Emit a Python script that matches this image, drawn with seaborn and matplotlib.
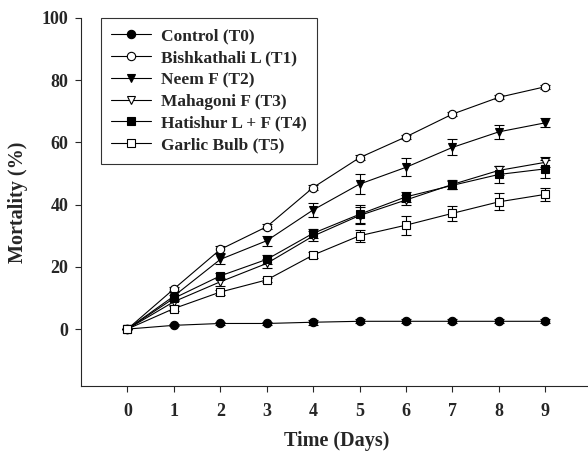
import pandas as pd
import seaborn as sns
import matplotlib.pyplot as plt
from matplotlib.font_manager import FontProperties

days = [0, 1, 2, 3, 4, 5, 6, 7, 8, 9]

labels = ["Control (T0)", "Bishkathali L (T1)", "Neem F (T2)",
          "Mahagoni F (T3)", "Hatishur L + F (T4)", "Garlic Bulb (T5)"]

# mean mortality (%)
t0 = [0, 1.2, 1.8, 1.8, 2.2, 2.5, 2.5, 2.5, 2.5, 2.5]
t1 = [0, 12.9, 25.6, 32.9, 45.5, 55.1, 61.8, 69.1, 74.5, 77.9]
t2 = [0, 10.6, 22.4, 28.4, 38.3, 46.6, 52.0, 58.4, 63.4, 66.3]
t3 = [0, 8.8, 15.2, 21.1, 29.9, 36.5, 41.5, 46.5, 51.0, 53.6]
t4 = [0, 9.9, 17.1, 22.4, 30.8, 36.9, 42.5, 46.2, 49.7, 51.5]
t5 = [0, 6.6, 11.9, 15.8, 23.8, 30.0, 33.4, 37.2, 40.9, 43.3]

# standard errors
e0 = [0, 0.3, 0.4, 0.4, 0.8, 0.6, 0.6, 0.6, 0.6, 0.6]
e1 = [0, 0.6, 1.2, 0.8, 0.8, 0.8, 0.7, 0.7, 0.7, 0.7]
e2 = [0, 1.2, 1.6, 1.6, 2.3, 3.1, 2.9, 2.6, 2.3, 1.5]
e3 = [0, 1.0, 1.3, 1.5, 1.5, 2.8, 1.6, 1.4, 1.5, 1.6]
e4 = [0, 1.0, 1.0, 1.5, 1.5, 2.9, 1.6, 1.3, 2.7, 2.8]
e5 = [0, 0.8, 0.8, 0.7, 1.0, 2.0, 3.0, 2.5, 2.7, 2.0]

means = [t0, t1, t2, t3, t4, t5]
errs = [e0, e1, e2, e3, e4, e5]
markers = ["o", "o", "v", "v", "s", "s"]
faces = ["black", "white", "black", "white", "black", "white"]

rows = []
for lab, m, e in zip(labels, means, errs):
    for d, v, s in zip(days, m, e):
        rows.append({"Treatment": lab, "Day": d, "Mortality": v, "SE": s})
df = pd.DataFrame(rows)

sns.set_style("ticks")
plt.rcParams['font.family'] = ['Liberation Serif', 'DejaVu Serif']
plt.rcParams['font.weight'] = 'bold'

fig = plt.figure(figsize=(5.88, 4.53), dpi=100)
ax = fig.add_axes([0.1378, 0.1479, 0.8685, 0.8124])

for lab, mk, fc in zip(labels, markers, faces):
    sub = df[df["Treatment"] == lab]
    ax.errorbar(sub["Day"], sub["Mortality"], yerr=sub["SE"], fmt="none",
                ecolor="black", elinewidth=0.8, capsize=3.5, capthick=0.8, zorder=2)
    sns.lineplot(data=sub, x="Day", y="Mortality", ax=ax, color="black",
                 linewidth=0.8, marker=mk, markersize=6, markerfacecolor=fc,
                 markeredgecolor="black", markeredgewidth=0.8, label=lab, zorder=3)

ax.set_xlim(-1, 10)
ax.set_ylim(-18.3, 100)
ax.set_xticks(days)
ax.set_yticks([0, 20, 40, 60, 80, 100])
ax.tick_params(direction="out", length=4, width=0.8, labelsize=13)
ax.tick_params(axis="x", pad=8)
ax.tick_params(axis="y", pad=5)
for t in ax.get_xticklabels() + ax.get_yticklabels():
    t.set_fontweight("bold")
sns.despine(ax=ax)
for s in ["left", "bottom"]:
    ax.spines[s].set_linewidth(0.8)

ax.set_xlabel("Time (Days)", fontsize=14.5, fontweight="bold", labelpad=8)
ax.set_ylabel("Mortality (%)", fontsize=14.5, fontweight="bold", labelpad=10)

legfont = FontProperties(family="Liberation Serif", weight="bold", size=12.5)
leg = ax.legend(loc="upper left", bbox_to_anchor=(0.039, 1.0), borderaxespad=0,
                handlelength=2.3, handletextpad=0.55, labelspacing=0.32,
                borderpad=0.6, frameon=True, fancybox=False, edgecolor="black",
                prop=legfont)
leg.get_frame().set_linewidth(0.8)

fig.savefig("out.png", dpi=100)
